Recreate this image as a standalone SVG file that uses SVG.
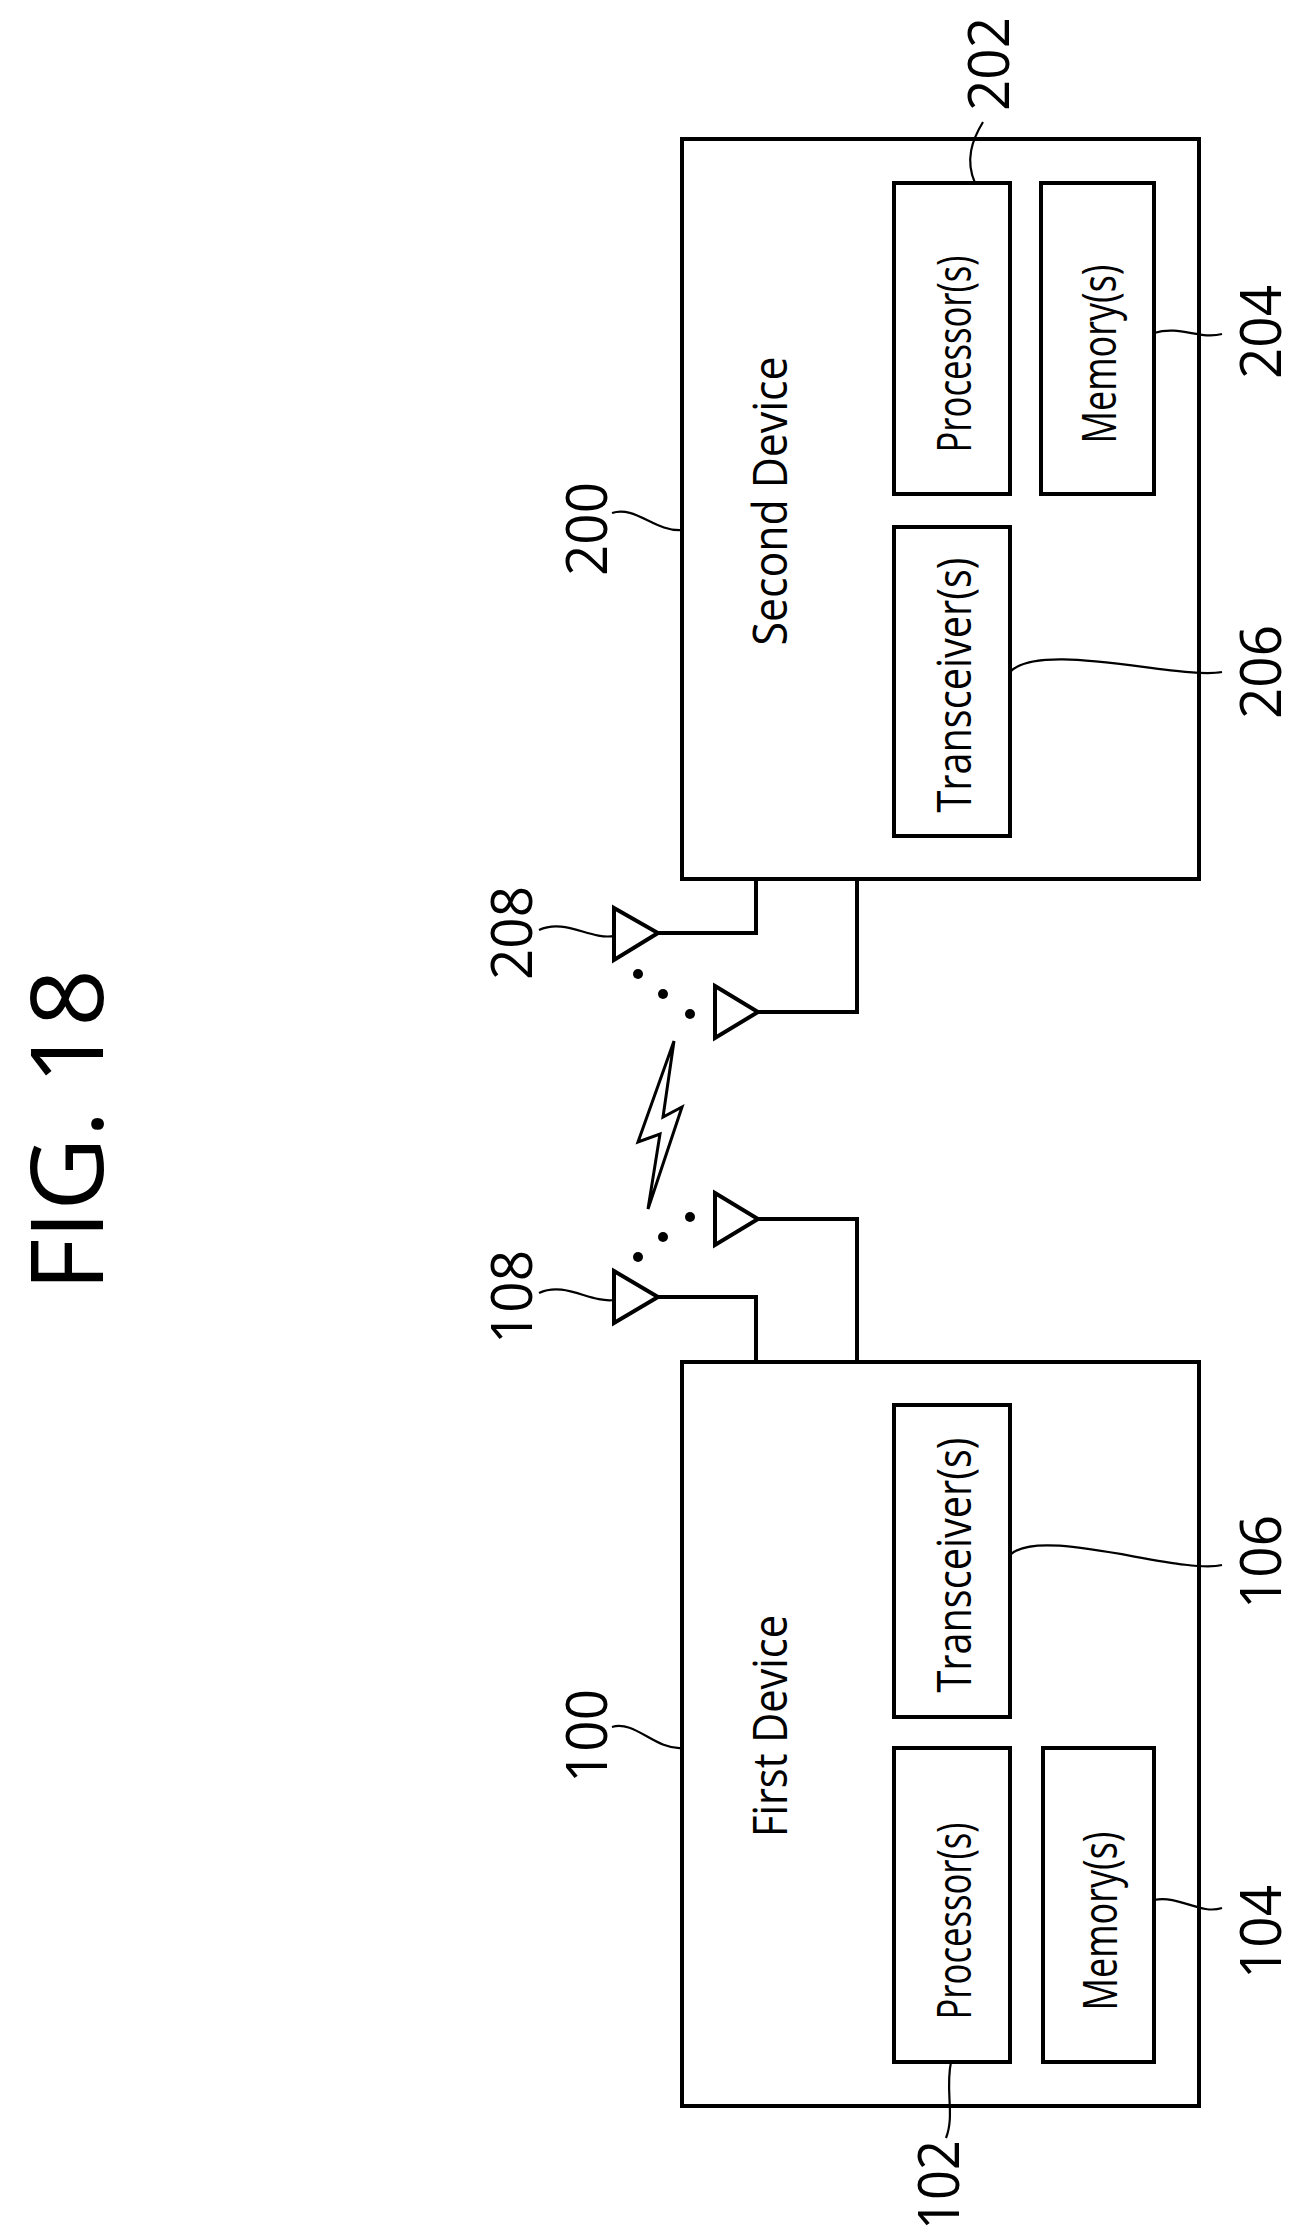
<svg xmlns="http://www.w3.org/2000/svg" width="1302" height="2231" viewBox="0 0 1302 2231">
<style>
.b{fill:none;stroke:#000;stroke-width:4}
.l{fill:none;stroke:#000;stroke-width:2.2}
.t{font-family:"Open Sans","Liberation Sans",sans-serif;font-size:48px;text-anchor:middle;dominant-baseline:central}
.n{font-family:"Open Sans","Liberation Sans",sans-serif;font-size:56px;text-anchor:middle;dominant-baseline:central}
</style>
<rect width="1302" height="2231" fill="#fff"/>
<text transform="translate(64,1130) rotate(-90)" textLength="322" lengthAdjust="spacingAndGlyphs" style="font-family:'Open Sans','Liberation Sans',sans-serif;font-size:100px;text-anchor:middle;dominant-baseline:central">FIG. 18</text>
<g id="second-device">
<rect class="b" x="682" y="139" width="517" height="740"/>
<text class="t" transform="translate(768,501) rotate(-90)" textLength="289" lengthAdjust="spacingAndGlyphs">Second Device</text>
</g>
<g id="proc202"><rect class="b" x="894" y="183" width="116" height="311"/><text class="t" transform="translate(952,354) rotate(-90)" textLength="197" lengthAdjust="spacingAndGlyphs">Processor(s)</text></g>
<g id="mem204"><rect class="b" x="1041" y="183" width="113" height="311"/><text class="t" transform="translate(1097,354) rotate(-90)" textLength="179" lengthAdjust="spacingAndGlyphs">Memory(s)</text></g>
<g id="tx206"><rect class="b" x="894" y="527" width="116" height="309"/><text class="t" transform="translate(952,685) rotate(-90)" textLength="255" lengthAdjust="spacingAndGlyphs">Transceiver(s)</text></g>
<g id="first-device">
<rect class="b" x="682" y="1362" width="517" height="744"/>
<text class="t" transform="translate(768,1726) rotate(-90)" textLength="222" lengthAdjust="spacingAndGlyphs">First Device</text>
</g>
<g id="proc102"><rect class="b" x="894" y="1748" width="116" height="314"/><text class="t" transform="translate(952,1921) rotate(-90)" textLength="197" lengthAdjust="spacingAndGlyphs">Processor(s)</text></g>
<g id="mem104"><rect class="b" x="1043" y="1748" width="111" height="314"/><text class="t" transform="translate(1098,1921) rotate(-90)" textLength="179" lengthAdjust="spacingAndGlyphs">Memory(s)</text></g>
<g id="tx106"><rect class="b" x="894" y="1405" width="116" height="312"/><text class="t" transform="translate(952,1565) rotate(-90)" textLength="255" lengthAdjust="spacingAndGlyphs">Transceiver(s)</text></g>
<g id="antennas">
<polygon class="b" points="614,908 658,933 614,960"/>
<polygon class="b" points="715,986 758,1012 715,1038"/>
<polygon class="b" points="715,1193 758,1219 715,1245"/>
<polygon class="b" points="614,1271 658,1297 614,1323"/>
<circle cx="638" cy="974" r="5"/><circle cx="663" cy="994" r="5"/><circle cx="690" cy="1014" r="5"/>
<circle cx="690" cy="1217" r="5"/><circle cx="663" cy="1237" r="5"/><circle cx="638" cy="1257" r="5"/>
<polygon class="l" style="stroke-width:3" points="674,1041 638,1142 660,1134 648,1209 682,1107 663,1117"/>
</g>
<g id="connectors">
<polyline class="b" points="658,933 756,933 756,879"/>
<polyline class="b" points="758,1012 857,1012 857,879"/>
<polyline class="b" points="758,1219 857,1219 857,1362"/>
<polyline class="b" points="658,1297 756,1297 756,1362"/>
<path class="l" d="M612,513 C635,505 655,532 682,530"/>
<path class="l" d="M983,122 C972,140 965,160 975,183"/>
<path class="l" d="M1154,333 C1180,325 1200,340 1222,334"/>
<path class="l" d="M1010,672 C1040,640 1180,680 1222,672"/>
<path class="l" d="M539,930 C565,918 590,940 614,936"/>
<path class="l" d="M539,1293 C565,1281 590,1303 614,1300"/>
<path class="l" d="M612,1727 C635,1720 655,1750 682,1748"/>
<path class="l" d="M951,2062 C945,2090 955,2115 946,2138"/>
<path class="l" d="M1154,1900 C1180,1895 1200,1915 1222,1908"/>
<path class="l" d="M1010,1555 C1040,1525 1180,1575 1222,1565"/>
</g>
<g id="labels">
<text class="n" transform="translate(585,529) rotate(-90)" textLength="94" lengthAdjust="spacingAndGlyphs">200</text>
<text class="n" transform="translate(987,64) rotate(-90)" textLength="94" lengthAdjust="spacingAndGlyphs">202</text>
<text class="n" transform="translate(1259,332) rotate(-90)" textLength="94" lengthAdjust="spacingAndGlyphs">204</text>
<text class="n" transform="translate(1259,672) rotate(-90)" textLength="94" lengthAdjust="spacingAndGlyphs">206</text>
<text class="n" transform="translate(510,933) rotate(-90)" textLength="94" lengthAdjust="spacingAndGlyphs">208</text>
<text class="n" transform="translate(510,1297) rotate(-90)" textLength="94" lengthAdjust="spacingAndGlyphs">108</text>
<text class="n" transform="translate(585,1736) rotate(-90)" textLength="94" lengthAdjust="spacingAndGlyphs">100</text>
<text class="n" transform="translate(937,2185) rotate(-90)" textLength="90" lengthAdjust="spacingAndGlyphs">102</text>
<text class="n" transform="translate(1259,1932) rotate(-90)" textLength="94" lengthAdjust="spacingAndGlyphs">104</text>
<text class="n" transform="translate(1259,1562) rotate(-90)" textLength="94" lengthAdjust="spacingAndGlyphs">106</text>
</g>
</svg>
